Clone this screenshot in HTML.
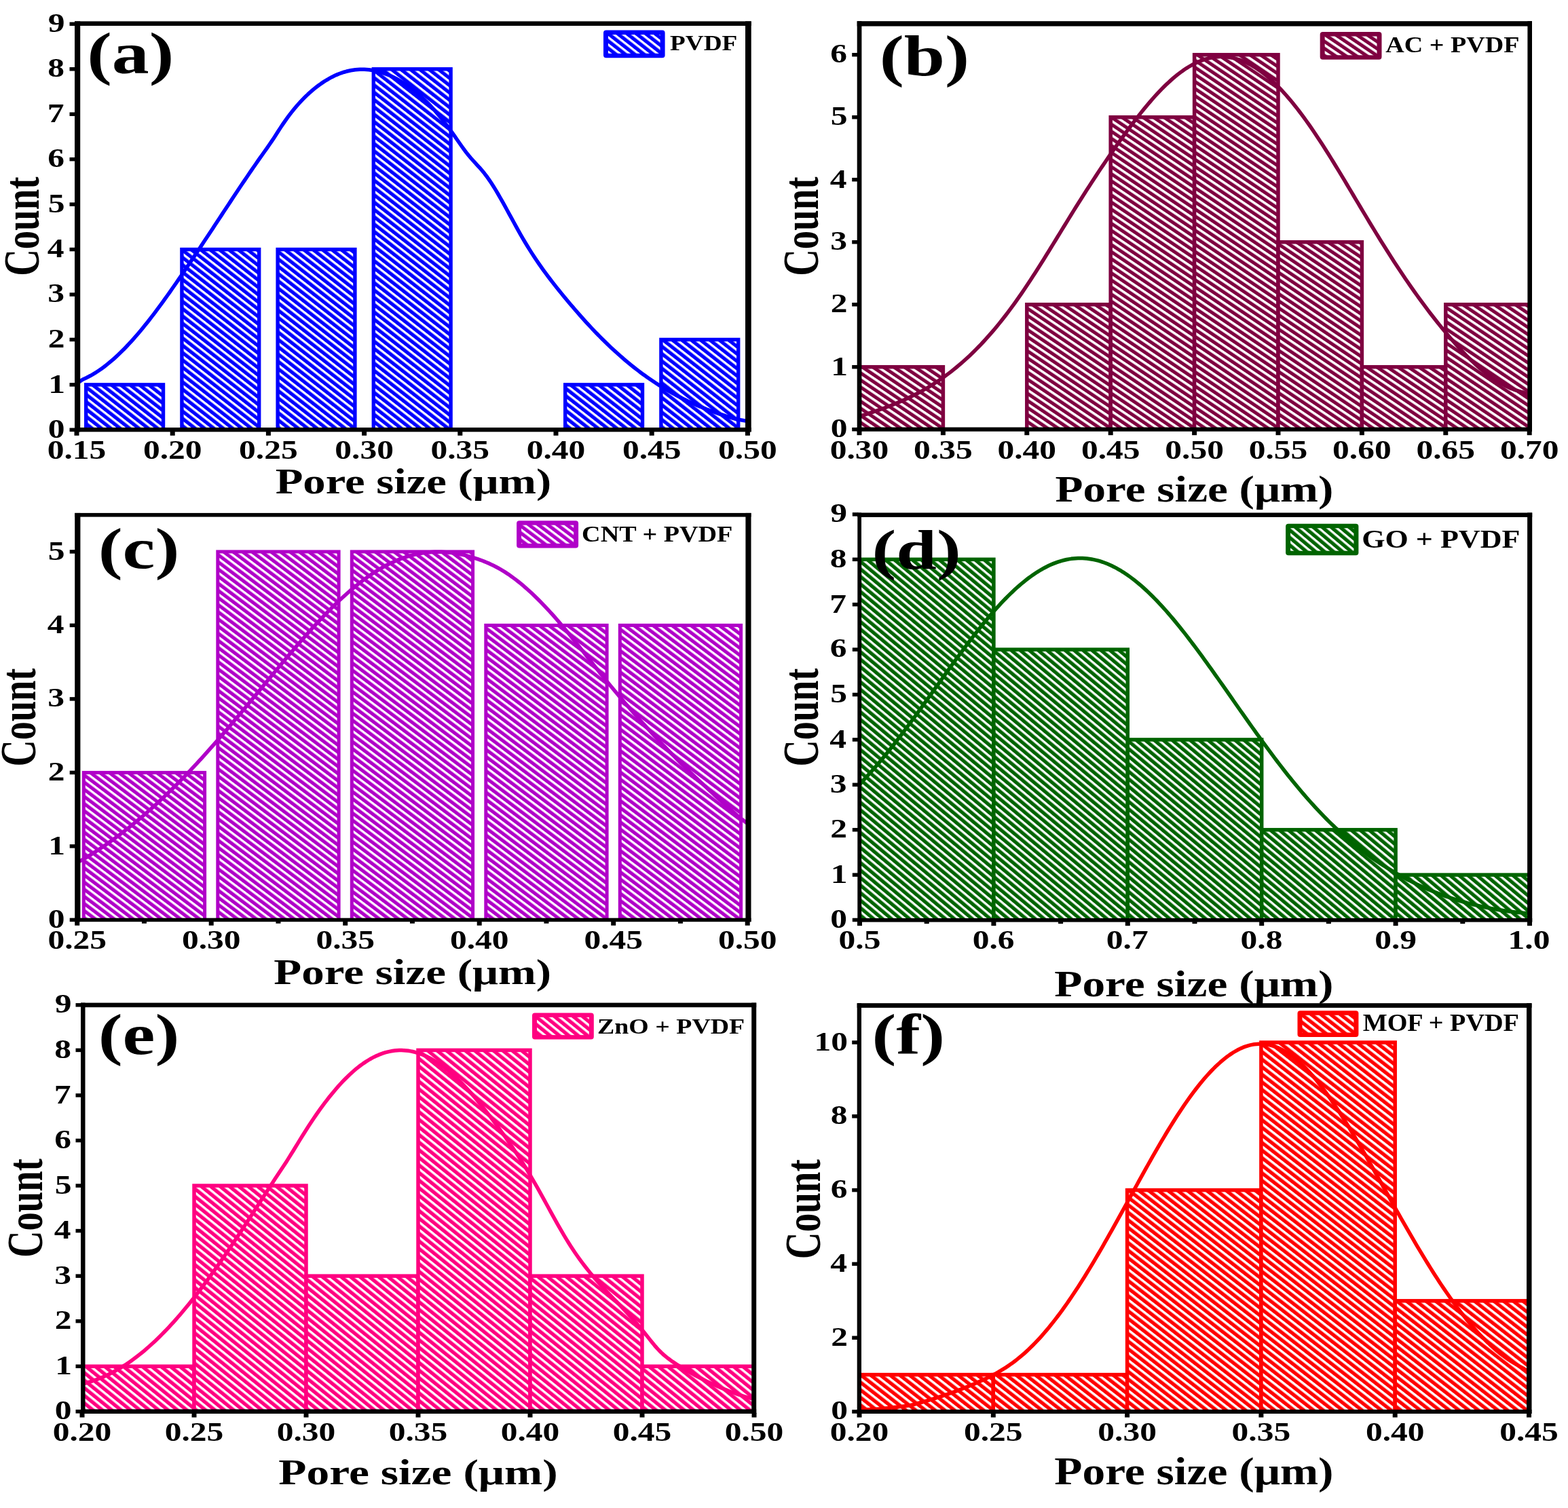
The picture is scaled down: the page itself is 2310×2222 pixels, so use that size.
<!DOCTYPE html>
<html><head><meta charset="utf-8"><title>Pore size distributions</title><style>html,body{margin:0;padding:0;background:#fff;width:2310px;height:2222px;overflow:hidden}svg{display:block;filter:blur(0.7px)}</style></head><body>
<svg xmlns="http://www.w3.org/2000/svg" width="2310" height="2222" viewBox="0 0 2310 2222"><defs><pattern id="ha" patternUnits="userSpaceOnUse" width="20" height="8.5" patternTransform="rotate(38)"><rect width="20" height="8.5" fill="#0000ff"/><rect y="0" width="20" height="3.3" fill="#fff"/></pattern><clipPath id="ca"><rect x="114.10" y="34.70" width="988.25" height="598.45"/></clipPath><pattern id="hb" patternUnits="userSpaceOnUse" width="20" height="8.65" patternTransform="rotate(34)"><rect width="20" height="8.65" fill="#7f0040"/><rect y="0" width="20" height="3.6" fill="#fff"/></pattern><clipPath id="cb"><rect x="1266.05" y="34.90" width="987.65" height="597.75"/></clipPath><pattern id="hc" patternUnits="userSpaceOnUse" width="20" height="8.4" patternTransform="rotate(37)"><rect width="20" height="8.4" fill="#b000c8"/><rect y="0" width="20" height="3.3" fill="#fff"/></pattern><clipPath id="cc"><rect x="114.30" y="758.75" width="988.15" height="596.70"/></clipPath><pattern id="hd" patternUnits="userSpaceOnUse" width="20" height="8.5" patternTransform="rotate(40)"><rect width="20" height="8.5" fill="#006400"/><rect y="0" width="20" height="3.3" fill="#fff"/></pattern><clipPath id="cd"><rect x="1266.15" y="758.75" width="987.50" height="597.05"/></clipPath><pattern id="he" patternUnits="userSpaceOnUse" width="20" height="8.7" patternTransform="rotate(39)"><rect width="20" height="8.7" fill="#ff0080"/><rect y="0" width="20" height="3.4" fill="#fff"/></pattern><clipPath id="ce"><rect x="122.25" y="1480.90" width="988.45" height="598.85"/></clipPath><pattern id="hf" patternUnits="userSpaceOnUse" width="20" height="8.8" patternTransform="rotate(38)"><rect width="20" height="8.8" fill="#ff0000"/><rect y="0" width="20" height="3.5" fill="#fff"/></pattern><clipPath id="cf"><rect x="1265.85" y="1481.55" width="986.90" height="598.45"/></clipPath></defs><rect width="2310" height="2222" fill="#fff"/><g font-family="'Liberation Serif', 'Times New Roman', serif" font-weight="bold" fill="#000"><g clip-path="url(#ca)">
<rect x="126.70" y="566.86" width="113.80" height="71.44" fill="url(#ha)" stroke="#0000ff" stroke-width="5.4"/>
<rect x="267.90" y="367.54" width="113.80" height="270.76" fill="url(#ha)" stroke="#0000ff" stroke-width="5.4"/>
<rect x="409.10" y="367.54" width="113.80" height="270.76" fill="url(#ha)" stroke="#0000ff" stroke-width="5.4"/>
<rect x="550.30" y="101.78" width="113.80" height="536.52" fill="url(#ha)" stroke="#0000ff" stroke-width="5.4"/>
<rect x="832.70" y="566.86" width="113.80" height="71.44" fill="url(#ha)" stroke="#0000ff" stroke-width="5.4"/>
<rect x="973.90" y="500.42" width="113.80" height="137.88" fill="url(#ha)" stroke="#0000ff" stroke-width="5.4"/>
<polyline points="110.00,566.82 113.33,564.74 116.67,562.60 120.00,560.41 123.34,558.49 126.67,556.95 130.01,555.29 133.34,553.52 136.68,551.62 140.01,549.61 143.34,547.49 146.68,545.25 150.01,542.90 153.35,540.45 156.68,537.88 160.02,535.21 163.35,532.43 166.69,529.56 170.02,526.58 173.35,523.50 176.69,520.32 180.02,517.05 183.36,513.69 186.69,510.24 190.03,506.70 193.36,503.07 196.70,499.36 200.03,495.56 203.36,491.69 206.70,487.74 210.03,483.71 213.37,479.61 216.70,475.45 220.04,471.21 223.37,466.91 226.71,462.55 230.04,458.13 233.37,453.65 236.71,449.12 240.04,444.55 243.38,439.92 246.71,435.25 250.05,430.54 253.38,425.79 256.72,421.01 260.05,416.20 263.38,411.35 266.72,406.49 270.05,401.61 273.39,396.70 276.72,391.78 280.06,386.83 283.39,381.87 286.73,376.90 290.06,371.91 293.39,366.90 296.73,361.88 300.06,356.85 303.40,351.81 306.73,346.76 310.07,341.71 313.40,336.65 316.74,331.58 320.07,326.51 323.40,321.44 326.74,316.37 330.07,311.30 333.41,306.24 336.74,301.19 340.08,296.14 343.41,291.10 346.75,286.08 350.08,281.06 353.41,276.07 356.75,271.09 360.08,266.14 363.42,261.20 366.75,256.29 370.09,251.41 373.42,246.56 376.76,241.73 380.09,236.94 383.42,232.19 386.76,227.47 390.09,222.77 393.43,218.04 396.76,213.27 400.10,208.41 403.43,203.43 406.77,198.31 410.10,193.04 413.43,187.87 416.77,182.87 420.10,178.06 423.44,173.42 426.77,168.96 430.11,164.67 433.44,160.54 436.78,156.58 440.11,152.78 443.44,149.13 446.78,145.65 450.11,142.31 453.45,139.12 456.78,136.08 460.12,133.17 463.45,130.41 466.79,127.78 470.12,125.27 473.45,122.90 476.79,120.65 480.12,118.53 483.46,116.54 486.79,114.68 490.13,112.95 493.46,111.35 496.80,109.87 500.13,108.53 503.46,107.32 506.80,106.24 510.13,105.29 513.47,104.47 516.80,103.78 520.14,103.22 523.47,102.78 526.81,102.48 530.14,102.30 533.47,102.25 536.81,102.32 540.14,102.52 543.48,102.84 546.81,103.29 550.15,103.85 553.48,104.54 556.82,105.34 560.15,106.25 563.48,107.29 566.82,108.43 570.15,109.68 573.49,111.04 576.82,112.51 580.16,114.09 583.49,115.79 586.83,117.60 590.16,119.52 593.49,121.55 596.83,123.70 600.16,125.97 603.50,128.36 606.83,130.87 610.17,133.49 613.50,136.23 616.84,139.10 620.17,142.08 623.51,145.18 626.84,148.41 630.17,151.75 633.51,155.21 636.84,158.80 640.18,162.50 643.51,166.33 646.85,170.27 650.18,174.34 653.52,178.52 656.85,182.82 660.18,187.25 663.52,191.79 666.85,196.44 670.19,201.20 673.52,206.01 676.86,210.80 680.19,215.54 683.53,220.15 686.86,224.59 690.19,228.80 693.53,232.75 696.86,236.50 700.20,240.15 703.53,243.77 706.87,247.45 710.20,251.28 713.54,255.34 716.87,259.71 720.20,264.38 723.54,269.32 726.87,274.51 730.21,279.91 733.54,285.51 736.88,291.26 740.21,297.15 743.55,303.14 746.88,309.20 750.21,315.31 753.55,321.44 756.88,327.56 760.22,333.64 763.55,339.65 766.89,345.57 770.22,351.36 773.56,357.01 776.89,362.51 780.22,367.88 783.56,373.12 786.89,378.23 790.23,383.22 793.56,388.10 796.90,392.88 800.23,397.55 803.57,402.13 806.90,406.62 810.23,411.03 813.57,415.37 816.90,419.64 820.24,423.85 823.57,428.00 826.91,432.11 830.24,436.18 833.58,440.21 836.91,444.21 840.24,448.17 843.58,452.09 846.91,455.98 850.25,459.82 853.58,463.62 856.92,467.39 860.25,471.11 863.59,474.78 866.92,478.41 870.25,482.00 873.59,485.54 876.92,489.03 880.26,492.48 883.59,495.88 886.93,499.23 890.26,502.53 893.60,505.79 896.93,508.99 900.26,512.15 903.60,515.26 906.93,518.32 910.27,521.32 913.60,524.28 916.94,527.19 920.27,530.05 923.61,532.86 926.94,535.62 930.27,538.34 933.61,541.00 936.94,543.61 940.28,546.18 943.61,548.70 946.95,551.17 950.28,553.59 953.62,555.96 956.95,558.29 960.28,560.57 963.62,562.81 966.95,565.00 970.29,567.14 973.62,569.24 976.96,571.30 980.29,573.31 983.63,575.28 986.96,577.21 990.29,579.09 993.63,580.94 996.96,582.74 1000.30,584.50 1003.63,586.22 1006.97,587.91 1010.30,589.55 1013.64,591.16 1016.97,592.73 1020.30,594.27 1023.64,595.76 1026.97,597.23 1030.31,598.65 1033.64,600.05 1036.98,601.41 1040.31,602.74 1043.65,604.03 1046.98,605.30 1050.31,606.53 1053.65,607.73 1056.98,608.90 1060.32,610.04 1063.65,611.16 1066.99,612.24 1070.32,613.30 1073.66,614.33 1076.99,615.34 1080.32,616.32 1083.66,617.27 1086.99,617.97 1090.33,618.63 1093.66,619.26 1097.00,619.86 1100.33,620.45 1103.67,621.01 1107.00,621.55" fill="none" stroke="#0000ff" stroke-width="5.5" stroke-linejoin="round"/>
</g>
<rect x="110.00" y="31.40" width="996.70" height="6.60" fill="#000"/>
<rect x="110.00" y="630.00" width="996.70" height="6.30" fill="#000"/>
<rect x="110.00" y="31.40" width="8.20" height="604.90" fill="#000"/>
<rect x="1098.00" y="31.40" width="8.70" height="604.90" fill="#000"/>
<rect x="109.50" y="635.30" width="7" height="6.5" fill="#000"/>
<rect x="250.70" y="635.30" width="7" height="6.5" fill="#000"/>
<rect x="391.90" y="635.30" width="7" height="6.5" fill="#000"/>
<rect x="533.10" y="635.30" width="7" height="6.5" fill="#000"/>
<rect x="674.30" y="635.30" width="7" height="6.5" fill="#000"/>
<rect x="815.50" y="635.30" width="7" height="6.5" fill="#000"/>
<rect x="956.70" y="635.30" width="7" height="6.5" fill="#000"/>
<rect x="1097.90" y="635.30" width="7" height="6.5" fill="#000"/>
<rect x="102.50" y="630.55" width="8.5" height="5.5" fill="#000"/>
<rect x="102.50" y="564.11" width="8.5" height="5.5" fill="#000"/>
<rect x="102.50" y="497.67" width="8.5" height="5.5" fill="#000"/>
<rect x="102.50" y="431.23" width="8.5" height="5.5" fill="#000"/>
<rect x="102.50" y="364.79" width="8.5" height="5.5" fill="#000"/>
<rect x="102.50" y="298.35" width="8.5" height="5.5" fill="#000"/>
<rect x="102.50" y="231.91" width="8.5" height="5.5" fill="#000"/>
<rect x="102.50" y="165.47" width="8.5" height="5.5" fill="#000"/>
<rect x="102.50" y="99.03" width="8.5" height="5.5" fill="#000"/>
<rect x="102.50" y="32.59" width="8.5" height="5.5" fill="#000"/>
<text transform="translate(69.69,676.00) scale(0.4950,0.4030)" font-size="100">0.15</text>
<text transform="translate(210.89,675.59) scale(0.4950,0.4030)" font-size="100">0.20</text>
<text transform="translate(352.09,675.59) scale(0.4950,0.4030)" font-size="100">0.25</text>
<text transform="translate(493.29,675.59) scale(0.4950,0.4030)" font-size="100">0.30</text>
<text transform="translate(634.49,675.59) scale(0.4950,0.4030)" font-size="100">0.35</text>
<text transform="translate(775.69,675.59) scale(0.4950,0.4030)" font-size="100">0.40</text>
<text transform="translate(916.89,675.59) scale(0.4950,0.4030)" font-size="100">0.45</text>
<text transform="translate(1058.09,675.59) scale(0.4950,0.4030)" font-size="100">0.50</text>
<text transform="translate(70.83,644.69) scale(0.4950,0.4030)" font-size="100">0</text>
<text transform="translate(71.33,578.86) scale(0.4950,0.4030)" font-size="100">1</text>
<text transform="translate(70.83,512.02) scale(0.4950,0.4030)" font-size="100">2</text>
<text transform="translate(70.33,445.37) scale(0.4950,0.4030)" font-size="100">3</text>
<text transform="translate(69.84,379.34) scale(0.4950,0.4030)" font-size="100">4</text>
<text transform="translate(70.83,312.70) scale(0.4950,0.4030)" font-size="100">5</text>
<text transform="translate(70.33,246.05) scale(0.4950,0.4030)" font-size="100">6</text>
<text transform="translate(69.84,180.02) scale(0.4950,0.4030)" font-size="100">7</text>
<text transform="translate(70.33,113.17) scale(0.4950,0.4030)" font-size="100">8</text>
<text transform="translate(70.83,46.73) scale(0.4950,0.4030)" font-size="100">9</text>
<text transform="translate(128.31,108.26) scale(1.0981,0.8589)" font-size="100">(a)</text>
<text transform="translate(405.67,727.38) scale(0.6664,0.5344)" font-size="100">Pore size (μm)</text>
<text transform="translate(57.05,406.74) rotate(-90) scale(0.5487,0.7470)" font-size="100">Count</text>
<rect x="889.00" y="44.50" width="90.60" height="40.80" rx="4" fill="#0000ff"/>
<rect x="896.00" y="51.00" width="76.60" height="27.80" fill="url(#ha)"/>
<text transform="translate(987.05,73.87) scale(0.3727,0.3134)" font-size="100">PVDF</text>
<g clip-path="url(#cb)">
<rect x="1266.00" y="540.70" width="123.40" height="97.00" fill="url(#hb)" stroke="#7f0040" stroke-width="5.5"/>
<rect x="1512.80" y="448.70" width="123.40" height="189.00" fill="url(#hb)" stroke="#7f0040" stroke-width="5.5"/>
<rect x="1636.20" y="172.70" width="123.40" height="465.00" fill="url(#hb)" stroke="#7f0040" stroke-width="5.5"/>
<rect x="1759.60" y="80.70" width="123.40" height="557.00" fill="url(#hb)" stroke="#7f0040" stroke-width="5.5"/>
<rect x="1883.00" y="356.70" width="123.40" height="281.00" fill="url(#hb)" stroke="#7f0040" stroke-width="5.5"/>
<rect x="2006.40" y="540.70" width="123.40" height="97.00" fill="url(#hb)" stroke="#7f0040" stroke-width="5.5"/>
<rect x="2129.80" y="448.70" width="123.40" height="189.00" fill="url(#hb)" stroke="#7f0040" stroke-width="5.5"/>
<polyline points="1262.00,614.22 1265.33,613.43 1268.66,612.62 1271.98,611.66 1275.31,610.60 1278.64,609.53 1281.97,608.44 1285.29,607.33 1288.62,606.21 1291.95,605.07 1295.28,603.90 1298.61,602.71 1301.93,601.50 1305.26,600.26 1308.59,598.99 1311.92,597.70 1315.24,596.37 1318.57,595.02 1321.90,593.63 1325.23,592.21 1328.56,590.75 1331.88,589.26 1335.21,587.73 1338.54,586.16 1341.87,584.54 1345.19,582.89 1348.52,581.19 1351.85,579.45 1355.18,577.66 1358.51,575.83 1361.83,573.94 1365.16,572.01 1368.49,570.02 1371.82,567.98 1375.14,565.89 1378.47,563.74 1381.80,561.54 1385.13,559.27 1388.45,556.95 1391.78,554.57 1395.11,552.13 1398.44,549.63 1401.77,547.06 1405.09,544.43 1408.42,541.74 1411.75,538.98 1415.08,536.15 1418.40,533.25 1421.73,530.29 1425.06,527.25 1428.39,524.15 1431.72,520.97 1435.04,517.72 1438.37,514.40 1441.70,511.01 1445.03,507.54 1448.35,504.00 1451.68,500.39 1455.01,496.70 1458.34,492.94 1461.67,489.10 1464.99,485.18 1468.32,481.19 1471.65,477.13 1474.98,472.99 1478.30,468.77 1481.63,464.48 1484.96,460.11 1488.29,455.67 1491.62,451.15 1494.94,446.56 1498.27,441.90 1501.60,437.16 1504.93,432.35 1508.25,427.47 1511.58,422.54 1514.91,417.54 1518.24,412.48 1521.57,407.37 1524.89,402.21 1528.22,397.01 1531.55,391.77 1534.88,386.48 1538.20,381.17 1541.53,375.82 1544.86,370.45 1548.19,365.06 1551.52,359.64 1554.84,354.22 1558.17,348.79 1561.50,343.36 1564.83,337.92 1568.15,332.49 1571.48,327.07 1574.81,321.67 1578.14,316.28 1581.46,310.92 1584.79,305.58 1588.12,300.28 1591.45,295.00 1594.78,289.75 1598.10,284.52 1601.43,279.33 1604.76,274.17 1608.09,269.04 1611.41,263.93 1614.74,258.87 1618.07,253.83 1621.40,248.83 1624.73,243.86 1628.05,238.93 1631.38,234.03 1634.71,229.17 1638.04,224.35 1641.36,219.57 1644.69,214.83 1648.02,210.12 1651.35,205.46 1654.68,200.84 1658.00,196.27 1661.33,191.74 1664.66,187.25 1667.99,182.82 1671.31,178.44 1674.64,174.12 1677.97,169.86 1681.30,165.66 1684.63,161.53 1687.95,157.47 1691.28,153.49 1694.61,149.59 1697.94,145.78 1701.26,142.04 1704.59,138.40 1707.92,134.85 1711.25,131.40 1714.58,128.04 1717.90,124.79 1721.23,121.64 1724.56,118.60 1727.89,115.68 1731.21,112.86 1734.54,110.16 1737.87,107.59 1741.20,105.13 1744.53,102.79 1747.85,100.58 1751.18,98.50 1754.51,96.55 1757.84,94.73 1761.16,93.04 1764.49,91.48 1767.82,90.07 1771.15,88.78 1774.47,87.64 1777.80,86.64 1781.13,85.77 1784.46,85.05 1787.79,84.47 1791.11,84.03 1794.44,83.74 1797.77,83.59 1801.10,83.58 1804.42,83.72 1807.75,84.00 1811.08,84.43 1814.41,85.00 1817.74,85.71 1821.06,86.57 1824.39,87.57 1827.72,88.72 1831.05,90.01 1834.37,91.43 1837.70,93.00 1841.03,94.71 1844.36,96.55 1847.69,98.54 1851.01,100.65 1854.34,102.91 1857.67,105.29 1861.00,107.81 1864.32,110.45 1867.65,113.22 1870.98,116.12 1874.31,119.14 1877.64,122.29 1880.96,125.55 1884.29,128.93 1887.62,132.43 1890.95,136.03 1894.27,139.75 1897.60,143.58 1900.93,147.51 1904.26,151.54 1907.59,155.68 1910.91,159.91 1914.24,164.24 1917.57,168.66 1920.90,173.17 1924.22,177.76 1927.55,182.44 1930.88,187.20 1934.21,192.04 1937.54,196.96 1940.86,201.94 1944.19,207.00 1947.52,212.11 1950.85,217.29 1954.17,222.53 1957.50,227.82 1960.83,233.15 1964.16,238.53 1967.48,243.95 1970.81,249.41 1974.14,254.89 1977.47,260.40 1980.80,265.94 1984.12,271.49 1987.45,277.06 1990.78,282.64 1994.11,288.23 1997.43,293.82 2000.76,299.41 2004.09,304.99 2007.42,310.57 2010.75,316.13 2014.07,321.68 2017.40,327.21 2020.73,332.71 2024.06,338.19 2027.38,343.63 2030.71,349.05 2034.04,354.43 2037.37,359.77 2040.70,365.08 2044.02,370.34 2047.35,375.57 2050.68,380.75 2054.01,385.90 2057.33,390.99 2060.66,396.05 2063.99,401.06 2067.32,406.02 2070.65,410.93 2073.97,415.80 2077.30,420.62 2080.63,425.38 2083.96,430.10 2087.28,434.77 2090.61,439.39 2093.94,443.96 2097.27,448.47 2100.60,452.94 2103.92,457.35 2107.25,461.71 2110.58,466.02 2113.91,470.28 2117.23,474.49 2120.56,478.65 2123.89,482.76 2127.22,486.82 2130.55,490.82 2133.87,494.78 2137.20,498.67 2140.53,502.51 2143.86,506.28 2147.18,509.98 2150.51,513.62 2153.84,517.19 2157.17,520.68 2160.49,524.10 2163.82,527.44 2167.15,530.69 2170.48,533.86 2173.81,536.95 2177.13,539.94 2180.46,542.85 2183.79,545.66 2187.12,548.38 2190.44,551.00 2193.77,553.52 2197.10,555.93 2200.43,558.25 2203.76,560.45 2207.08,562.55 2210.41,564.54 2213.74,566.42 2217.07,568.18 2220.39,569.82 2223.72,571.35 2227.05,572.75 2230.38,574.04 2233.71,575.20 2237.03,576.24 2240.36,577.15 2243.69,577.93 2247.02,579.20 2250.34,580.90 2253.67,582.56 2257.00,584.17" fill="none" stroke="#7f0040" stroke-width="5.5" stroke-linejoin="round"/>
</g>
<rect x="1262.70" y="31.20" width="994.30" height="7.40" fill="#000"/>
<rect x="1262.70" y="629.60" width="994.30" height="6.10" fill="#000"/>
<rect x="1262.70" y="31.20" width="6.70" height="604.50" fill="#000"/>
<rect x="2250.40" y="31.20" width="6.60" height="604.50" fill="#000"/>
<rect x="1262.50" y="634.70" width="7" height="6.5" fill="#000"/>
<rect x="1385.90" y="634.70" width="7" height="6.5" fill="#000"/>
<rect x="1509.30" y="634.70" width="7" height="6.5" fill="#000"/>
<rect x="1632.70" y="634.70" width="7" height="6.5" fill="#000"/>
<rect x="1756.10" y="634.70" width="7" height="6.5" fill="#000"/>
<rect x="1879.50" y="634.70" width="7" height="6.5" fill="#000"/>
<rect x="2002.90" y="634.70" width="7" height="6.5" fill="#000"/>
<rect x="2126.30" y="634.70" width="7" height="6.5" fill="#000"/>
<rect x="2249.70" y="634.70" width="7" height="6.5" fill="#000"/>
<rect x="1255.20" y="629.95" width="8.5" height="5.5" fill="#000"/>
<rect x="1255.20" y="537.95" width="8.5" height="5.5" fill="#000"/>
<rect x="1255.20" y="445.95" width="8.5" height="5.5" fill="#000"/>
<rect x="1255.20" y="353.95" width="8.5" height="5.5" fill="#000"/>
<rect x="1255.20" y="261.95" width="8.5" height="5.5" fill="#000"/>
<rect x="1255.20" y="169.95" width="8.5" height="5.5" fill="#000"/>
<rect x="1255.20" y="77.95" width="8.5" height="5.5" fill="#000"/>
<text transform="translate(1222.69,675.59) scale(0.4950,0.4030)" font-size="100">0.30</text>
<text transform="translate(1346.09,675.59) scale(0.4950,0.4030)" font-size="100">0.35</text>
<text transform="translate(1469.49,675.59) scale(0.4950,0.4030)" font-size="100">0.40</text>
<text transform="translate(1592.89,675.59) scale(0.4950,0.4030)" font-size="100">0.45</text>
<text transform="translate(1716.29,675.59) scale(0.4950,0.4030)" font-size="100">0.50</text>
<text transform="translate(1839.69,675.59) scale(0.4950,0.4030)" font-size="100">0.55</text>
<text transform="translate(1963.09,675.59) scale(0.4950,0.4030)" font-size="100">0.60</text>
<text transform="translate(2086.49,675.59) scale(0.4950,0.4030)" font-size="100">0.65</text>
<text transform="translate(2209.89,675.59) scale(0.4950,0.4030)" font-size="100">0.70</text>
<text transform="translate(1223.73,644.09) scale(0.4950,0.4030)" font-size="100">0</text>
<text transform="translate(1224.22,552.70) scale(0.4950,0.4030)" font-size="100">1</text>
<text transform="translate(1223.73,460.30) scale(0.4950,0.4030)" font-size="100">2</text>
<text transform="translate(1223.23,368.09) scale(0.4950,0.4030)" font-size="100">3</text>
<text transform="translate(1222.74,276.50) scale(0.4950,0.4030)" font-size="100">4</text>
<text transform="translate(1223.73,184.30) scale(0.4950,0.4030)" font-size="100">5</text>
<text transform="translate(1223.24,92.09) scale(0.4950,0.4030)" font-size="100">6</text>
<text transform="translate(1295.67,110.73) scale(1.0833,0.8511)" font-size="100">(b)</text>
<text transform="translate(1554.46,738.91) scale(0.6722,0.5422)" font-size="100">Pore size (μm)</text>
<text transform="translate(1204.57,406.74) rotate(-90) scale(0.5487,0.7318)" font-size="100">Count</text>
<rect x="1944.70" y="47.00" width="90.80" height="40.80" rx="4" fill="#7f0040"/>
<rect x="1951.70" y="53.50" width="76.80" height="27.80" fill="url(#hb)"/>
<text transform="translate(2041.22,76.93) scale(0.3807,0.3368)" font-size="100">AC + PVDF</text>
<g clip-path="url(#cc)">
<rect x="123.30" y="1138.40" width="178.30" height="222.00" fill="url(#hc)" stroke="#b000c8" stroke-width="5.0"/>
<rect x="320.80" y="812.90" width="178.30" height="547.50" fill="url(#hc)" stroke="#b000c8" stroke-width="5.0"/>
<rect x="518.30" y="812.90" width="178.30" height="547.50" fill="url(#hc)" stroke="#b000c8" stroke-width="5.0"/>
<rect x="715.80" y="921.40" width="178.30" height="439.00" fill="url(#hc)" stroke="#b000c8" stroke-width="5.0"/>
<rect x="913.30" y="921.40" width="178.30" height="439.00" fill="url(#hc)" stroke="#b000c8" stroke-width="5.0"/>
<polyline points="110.00,1272.84 113.33,1271.12 116.67,1269.37 120.00,1267.58 123.34,1265.75 126.67,1263.77 130.01,1261.71 133.34,1259.62 136.68,1257.50 140.01,1255.35 143.34,1253.18 146.68,1250.97 150.01,1248.72 153.35,1246.45 156.68,1244.15 160.02,1241.81 163.35,1239.44 166.69,1237.04 170.02,1234.60 173.35,1232.14 176.69,1229.63 180.02,1227.10 183.36,1224.53 186.69,1221.93 190.03,1219.30 193.36,1216.63 196.70,1213.93 200.03,1211.19 203.36,1208.42 206.70,1205.62 210.03,1202.78 213.37,1199.91 216.70,1197.00 220.04,1194.06 223.37,1191.09 226.71,1188.08 230.04,1185.04 233.37,1181.96 236.71,1178.85 240.04,1175.71 243.38,1172.54 246.71,1169.33 250.05,1166.09 253.38,1162.82 256.72,1159.52 260.05,1156.18 263.38,1152.82 266.72,1149.42 270.05,1146.00 273.39,1142.54 276.72,1139.05 280.06,1135.54 283.39,1131.99 286.73,1128.42 290.06,1124.82 293.39,1121.20 296.73,1117.54 300.06,1113.87 303.40,1110.16 306.73,1106.44 310.07,1102.69 313.40,1098.91 316.74,1095.12 320.07,1091.30 323.40,1087.46 326.74,1083.61 330.07,1079.73 333.41,1075.84 336.74,1071.93 340.08,1068.00 343.41,1064.06 346.75,1060.10 350.08,1056.13 353.41,1052.15 356.75,1048.16 360.08,1044.16 363.42,1040.14 366.75,1036.12 370.09,1032.10 373.42,1028.07 376.76,1024.03 380.09,1019.99 383.42,1015.95 386.76,1011.90 390.09,1007.86 393.43,1003.82 396.76,999.78 400.10,995.75 403.43,991.72 406.77,987.70 410.10,983.69 413.43,979.69 416.77,975.70 420.10,971.73 423.44,967.77 426.77,963.83 430.11,959.91 433.44,956.00 436.78,952.12 440.11,948.26 443.44,944.43 446.78,940.63 450.11,936.85 453.45,933.10 456.78,929.38 460.12,925.70 463.45,922.05 466.79,918.43 470.12,914.86 473.45,911.32 476.79,907.82 480.12,904.37 483.46,900.96 486.79,897.59 490.13,894.27 493.46,891.01 496.80,887.79 500.13,884.62 503.46,881.50 506.80,878.44 510.13,875.44 513.47,872.49 516.80,869.61 520.14,866.78 523.47,864.01 526.81,861.31 530.14,858.67 533.47,856.10 536.81,853.60 540.14,851.16 543.48,848.79 546.81,846.50 550.15,844.27 553.48,842.12 556.82,840.05 560.15,838.05 563.48,836.12 566.82,834.28 570.15,832.51 573.49,830.82 576.82,829.20 580.16,827.67 583.49,826.21 586.83,824.84 590.16,823.54 593.49,822.32 596.83,821.18 600.16,820.11 603.50,819.13 606.83,818.22 610.17,817.39 613.50,816.64 616.84,815.96 620.17,815.36 623.51,814.84 626.84,814.40 630.17,814.03 633.51,813.73 636.84,813.51 640.18,813.37 643.51,813.30 646.85,813.30 650.18,813.37 653.52,813.51 656.85,813.73 660.18,814.01 663.52,814.37 666.85,814.79 670.19,815.28 673.52,815.83 676.86,816.45 680.19,817.14 683.53,817.88 686.86,818.69 690.19,819.56 693.53,820.49 696.86,821.48 700.20,822.52 703.53,823.63 706.87,824.79 710.20,826.02 713.54,827.32 716.87,828.69 720.20,830.13 723.54,831.66 726.87,833.27 730.21,834.96 733.54,836.75 736.88,838.63 740.21,840.60 743.55,842.67 746.88,844.84 750.21,847.09 753.55,849.43 756.88,851.86 760.22,854.38 763.55,856.99 766.89,859.68 770.22,862.45 773.56,865.30 776.89,868.23 780.22,871.24 783.56,874.32 786.89,877.48 790.23,880.70 793.56,884.00 796.90,887.37 800.23,890.81 803.57,894.31 806.90,897.88 810.23,901.50 813.57,905.19 816.90,908.94 820.24,912.74 823.57,916.59 826.91,920.50 830.24,924.46 833.58,928.46 836.91,932.50 840.24,936.57 843.58,940.68 846.91,944.81 850.25,948.97 853.58,953.15 856.92,957.34 860.25,961.55 863.59,965.76 866.92,969.97 870.25,974.19 873.59,978.40 876.92,982.60 880.26,986.78 883.59,990.95 886.93,995.10 890.26,999.23 893.60,1003.32 896.93,1007.40 900.26,1011.44 903.60,1015.46 906.93,1019.45 910.27,1023.42 913.60,1027.37 916.94,1031.28 920.27,1035.18 923.61,1039.05 926.94,1042.90 930.27,1046.72 933.61,1050.52 936.94,1054.30 940.28,1058.05 943.61,1061.78 946.95,1065.49 950.28,1069.17 953.62,1072.83 956.95,1076.47 960.28,1080.08 963.62,1083.67 966.95,1087.24 970.29,1090.78 973.62,1094.30 976.96,1097.79 980.29,1101.27 983.63,1104.72 986.96,1108.14 990.29,1111.55 993.63,1114.93 996.96,1118.29 1000.30,1121.62 1003.63,1124.94 1006.97,1128.23 1010.30,1131.51 1013.64,1134.76 1016.97,1137.99 1020.30,1141.21 1023.64,1144.40 1026.97,1147.58 1030.31,1150.74 1033.64,1153.87 1036.98,1157.00 1040.31,1160.10 1043.65,1163.19 1046.98,1166.27 1050.31,1169.33 1053.65,1172.37 1056.98,1175.41 1060.32,1178.43 1063.65,1181.43 1066.99,1184.43 1070.32,1187.42 1073.66,1190.40 1076.99,1193.37 1080.32,1196.33 1083.66,1199.28 1086.99,1202.23 1090.33,1204.95 1093.66,1207.63 1097.00,1210.27 1100.33,1212.88 1103.67,1215.45 1107.00,1217.98" fill="none" stroke="#b000c8" stroke-width="5.5" stroke-linejoin="round"/>
</g>
<rect x="110.20" y="755.90" width="996.30" height="5.70" fill="#000"/>
<rect x="110.20" y="1352.70" width="996.30" height="5.50" fill="#000"/>
<rect x="110.20" y="755.90" width="8.20" height="602.30" fill="#000"/>
<rect x="1098.40" y="755.90" width="8.10" height="602.30" fill="#000"/>
<rect x="110.20" y="1357.20" width="7" height="6.5" fill="#000"/>
<rect x="307.70" y="1357.20" width="7" height="6.5" fill="#000"/>
<rect x="505.20" y="1357.20" width="7" height="6.5" fill="#000"/>
<rect x="702.70" y="1357.20" width="7" height="6.5" fill="#000"/>
<rect x="900.20" y="1357.20" width="7" height="6.5" fill="#000"/>
<rect x="1097.70" y="1357.20" width="7" height="6.5" fill="#000"/>
<rect x="208.95" y="1357.20" width="7" height="3.5" fill="#000"/>
<rect x="406.45" y="1357.20" width="7" height="3.5" fill="#000"/>
<rect x="603.95" y="1357.20" width="7" height="3.5" fill="#000"/>
<rect x="801.45" y="1357.20" width="7" height="3.5" fill="#000"/>
<rect x="998.95" y="1357.20" width="7" height="3.5" fill="#000"/>
<rect x="102.70" y="1352.65" width="8.5" height="5.5" fill="#000"/>
<rect x="102.70" y="1244.15" width="8.5" height="5.5" fill="#000"/>
<rect x="102.70" y="1135.65" width="8.5" height="5.5" fill="#000"/>
<rect x="102.70" y="1027.15" width="8.5" height="5.5" fill="#000"/>
<rect x="102.70" y="918.65" width="8.5" height="5.5" fill="#000"/>
<rect x="102.70" y="810.15" width="8.5" height="5.5" fill="#000"/>
<text transform="translate(70.39,1397.89) scale(0.4950,0.4030)" font-size="100">0.25</text>
<text transform="translate(267.89,1397.89) scale(0.4950,0.4030)" font-size="100">0.30</text>
<text transform="translate(465.39,1397.89) scale(0.4950,0.4030)" font-size="100">0.35</text>
<text transform="translate(662.89,1397.89) scale(0.4950,0.4030)" font-size="100">0.40</text>
<text transform="translate(860.39,1397.89) scale(0.4950,0.4030)" font-size="100">0.45</text>
<text transform="translate(1057.89,1397.89) scale(0.4950,0.4030)" font-size="100">0.50</text>
<text transform="translate(70.63,1366.79) scale(0.4950,0.4030)" font-size="100">0</text>
<text transform="translate(71.13,1258.90) scale(0.4950,0.4030)" font-size="100">1</text>
<text transform="translate(70.63,1150.00) scale(0.4950,0.4030)" font-size="100">2</text>
<text transform="translate(70.14,1041.29) scale(0.4950,0.4030)" font-size="100">3</text>
<text transform="translate(69.64,933.20) scale(0.4950,0.4030)" font-size="100">4</text>
<text transform="translate(70.63,824.50) scale(0.4950,0.4030)" font-size="100">5</text>
<text transform="translate(144.69,836.56) scale(1.0777,0.8544)" font-size="100">(c)</text>
<text transform="translate(403.26,1449.75) scale(0.6704,0.5356)" font-size="100">Pore size (μm)</text>
<text transform="translate(51.77,1129.41) rotate(-90) scale(0.5429,0.7318)" font-size="100">Count</text>
<rect x="761.10" y="767.20" width="91.00" height="40.20" rx="4" fill="#b000c8"/>
<rect x="768.10" y="773.70" width="77.00" height="27.20" fill="url(#hc)"/>
<text transform="translate(857.09,797.94) scale(0.3815,0.3284)" font-size="100">CNT + PVDF</text>
<g clip-path="url(#cd)">
<rect x="1266.50" y="824.30" width="197.40" height="536.20" fill="url(#hd)" stroke="#006400" stroke-width="5.5"/>
<rect x="1463.90" y="957.10" width="197.40" height="403.40" fill="url(#hd)" stroke="#006400" stroke-width="5.5"/>
<rect x="1661.30" y="1089.90" width="197.40" height="270.60" fill="url(#hd)" stroke="#006400" stroke-width="5.5"/>
<rect x="1858.70" y="1222.70" width="197.40" height="137.80" fill="url(#hd)" stroke="#006400" stroke-width="5.5"/>
<rect x="2056.10" y="1289.10" width="197.40" height="71.40" fill="url(#hd)" stroke="#006400" stroke-width="5.5"/>
<polyline points="1262.00,1161.46 1265.33,1157.51 1268.66,1153.51 1271.98,1149.61 1275.31,1146.06 1278.64,1142.44 1281.97,1138.76 1285.29,1135.02 1288.62,1131.23 1291.95,1127.37 1295.28,1123.47 1298.61,1119.50 1301.93,1115.49 1305.26,1111.42 1308.59,1107.31 1311.92,1103.15 1315.24,1098.94 1318.57,1094.69 1321.90,1090.40 1325.23,1086.07 1328.56,1081.71 1331.88,1077.30 1335.21,1072.87 1338.54,1068.40 1341.87,1063.91 1345.19,1059.39 1348.52,1054.84 1351.85,1050.27 1355.18,1045.68 1358.51,1041.08 1361.83,1036.46 1365.16,1031.82 1368.49,1027.18 1371.82,1022.53 1375.14,1017.87 1378.47,1013.21 1381.80,1008.55 1385.13,1003.89 1388.45,999.24 1391.78,994.59 1395.11,989.95 1398.44,985.33 1401.77,980.72 1405.09,976.13 1408.42,971.56 1411.75,967.02 1415.08,962.50 1418.40,958.01 1421.73,953.55 1425.06,949.12 1428.39,944.73 1431.72,940.38 1435.04,936.08 1438.37,931.82 1441.70,927.60 1445.03,923.44 1448.35,919.33 1451.68,915.28 1455.01,911.29 1458.34,907.35 1461.67,903.48 1464.99,899.68 1468.32,895.94 1471.65,892.28 1474.98,888.69 1478.30,885.18 1481.63,881.74 1484.96,878.38 1488.29,875.10 1491.62,871.91 1494.94,868.80 1498.27,865.78 1501.60,862.85 1504.93,860.01 1508.25,857.26 1511.58,854.61 1514.91,852.05 1518.24,849.59 1521.57,847.23 1524.89,844.97 1528.22,842.80 1531.55,840.75 1534.88,838.79 1538.20,836.95 1541.53,835.21 1544.86,833.57 1548.19,832.05 1551.52,830.63 1554.84,829.33 1558.17,828.13 1561.50,827.05 1564.83,826.08 1568.15,825.23 1571.48,824.49 1574.81,823.86 1578.14,823.35 1581.46,822.95 1584.79,822.67 1588.12,822.51 1591.45,822.46 1594.78,822.52 1598.10,822.70 1601.43,823.00 1604.76,823.41 1608.09,823.94 1611.41,824.58 1614.74,825.33 1618.07,826.20 1621.40,827.19 1624.73,828.28 1628.05,829.49 1631.38,830.81 1634.71,832.23 1638.04,833.77 1641.36,835.42 1644.69,837.17 1648.02,839.03 1651.35,840.99 1654.68,843.06 1658.00,845.23 1661.33,847.51 1664.66,849.88 1667.99,852.35 1671.31,854.91 1674.64,857.57 1677.97,860.33 1681.30,863.18 1684.63,866.11 1687.95,869.14 1691.28,872.25 1694.61,875.45 1697.94,878.73 1701.26,882.09 1704.59,885.52 1707.92,889.04 1711.25,892.63 1714.58,896.29 1717.90,900.03 1721.23,903.83 1724.56,907.70 1727.89,911.63 1731.21,915.62 1734.54,919.67 1737.87,923.78 1741.20,927.95 1744.53,932.16 1747.85,936.43 1751.18,940.74 1754.51,945.10 1757.84,949.50 1761.16,953.94 1764.49,958.41 1767.82,962.92 1771.15,967.47 1774.47,972.04 1777.80,976.65 1781.13,981.28 1784.46,985.93 1787.79,990.60 1791.11,995.29 1794.44,1000.00 1797.77,1004.72 1801.10,1009.45 1804.42,1014.19 1807.75,1018.94 1811.08,1023.69 1814.41,1028.45 1817.74,1033.21 1821.06,1037.96 1824.39,1042.71 1827.72,1047.46 1831.05,1052.19 1834.37,1056.92 1837.70,1061.63 1841.03,1066.34 1844.36,1071.02 1847.69,1075.69 1851.01,1080.34 1854.34,1084.96 1857.67,1089.57 1861.00,1094.14 1864.32,1098.70 1867.65,1103.22 1870.98,1107.71 1874.31,1112.18 1877.64,1116.61 1880.96,1121.00 1884.29,1125.37 1887.62,1129.69 1890.95,1133.98 1894.27,1138.22 1897.60,1142.43 1900.93,1146.59 1904.26,1150.71 1907.59,1154.79 1910.91,1158.82 1914.24,1162.81 1917.57,1166.74 1920.90,1170.63 1924.22,1174.48 1927.55,1178.27 1930.88,1182.01 1934.21,1185.70 1937.54,1189.34 1940.86,1192.93 1944.19,1196.46 1947.52,1199.94 1950.85,1203.38 1954.17,1206.75 1957.50,1210.08 1960.83,1213.36 1964.16,1216.58 1967.48,1219.75 1970.81,1222.87 1974.14,1225.94 1977.47,1228.95 1980.80,1231.92 1984.12,1234.83 1987.45,1237.70 1990.78,1240.51 1994.11,1243.27 1997.43,1245.99 2000.76,1248.66 2004.09,1251.27 2007.42,1253.84 2010.75,1256.37 2014.07,1258.84 2017.40,1261.27 2020.73,1263.66 2024.06,1266.00 2027.38,1268.29 2030.71,1270.55 2034.04,1272.76 2037.37,1274.93 2040.70,1277.05 2044.02,1279.14 2047.35,1281.18 2050.68,1283.19 2054.01,1285.16 2057.33,1287.09 2060.66,1288.99 2063.99,1290.85 2067.32,1292.67 2070.65,1294.46 2073.97,1296.21 2077.30,1297.93 2080.63,1299.61 2083.96,1301.25 2087.28,1302.86 2090.61,1304.44 2093.94,1305.98 2097.27,1307.49 2100.60,1308.97 2103.92,1310.41 2107.25,1311.82 2110.58,1313.20 2113.91,1314.54 2117.23,1315.85 2120.56,1317.14 2123.89,1318.39 2127.22,1319.61 2130.55,1320.80 2133.87,1321.95 2137.20,1323.08 2140.53,1324.18 2143.86,1325.25 2147.18,1326.30 2150.51,1327.31 2153.84,1328.30 2157.17,1329.25 2160.49,1330.18 2163.82,1331.08 2167.15,1331.96 2170.48,1332.81 2173.81,1333.63 2177.13,1334.42 2180.46,1335.19 2183.79,1335.94 2187.12,1336.66 2190.44,1337.35 2193.77,1338.02 2197.10,1338.66 2200.43,1339.28 2203.76,1339.87 2207.08,1340.45 2210.41,1340.99 2213.74,1341.51 2217.07,1342.01 2220.39,1342.49 2223.72,1342.94 2227.05,1343.37 2230.38,1343.78 2233.71,1344.16 2237.03,1344.53 2240.36,1344.86 2243.69,1345.18 2247.02,1345.48 2250.34,1345.81 2253.67,1346.13 2257.00,1346.44" fill="none" stroke="#006400" stroke-width="5.5" stroke-linejoin="round"/>
</g>
<rect x="1263.30" y="755.50" width="993.90" height="6.50" fill="#000"/>
<rect x="1263.30" y="1353.00" width="993.90" height="5.60" fill="#000"/>
<rect x="1263.30" y="755.50" width="5.70" height="603.10" fill="#000"/>
<rect x="2250.10" y="755.50" width="7.10" height="603.10" fill="#000"/>
<rect x="1263.00" y="1357.60" width="7" height="6.5" fill="#000"/>
<rect x="1460.40" y="1357.60" width="7" height="6.5" fill="#000"/>
<rect x="1657.80" y="1357.60" width="7" height="6.5" fill="#000"/>
<rect x="1855.20" y="1357.60" width="7" height="6.5" fill="#000"/>
<rect x="2052.60" y="1357.60" width="7" height="6.5" fill="#000"/>
<rect x="2250.00" y="1357.60" width="7" height="6.5" fill="#000"/>
<rect x="1361.70" y="1357.60" width="7" height="3.5" fill="#000"/>
<rect x="1559.10" y="1357.60" width="7" height="3.5" fill="#000"/>
<rect x="1756.50" y="1357.60" width="7" height="3.5" fill="#000"/>
<rect x="1953.90" y="1357.60" width="7" height="3.5" fill="#000"/>
<rect x="2151.30" y="1357.60" width="7" height="3.5" fill="#000"/>
<rect x="1255.80" y="1352.75" width="8.5" height="5.5" fill="#000"/>
<rect x="1255.80" y="1286.35" width="8.5" height="5.5" fill="#000"/>
<rect x="1255.80" y="1219.95" width="8.5" height="5.5" fill="#000"/>
<rect x="1255.80" y="1153.55" width="8.5" height="5.5" fill="#000"/>
<rect x="1255.80" y="1087.15" width="8.5" height="5.5" fill="#000"/>
<rect x="1255.80" y="1020.75" width="8.5" height="5.5" fill="#000"/>
<rect x="1255.80" y="954.35" width="8.5" height="5.5" fill="#000"/>
<rect x="1255.80" y="887.95" width="8.5" height="5.5" fill="#000"/>
<rect x="1255.80" y="821.55" width="8.5" height="5.5" fill="#000"/>
<rect x="1255.80" y="755.15" width="8.5" height="5.5" fill="#000"/>
<text transform="translate(1235.56,1397.89) scale(0.4950,0.4030)" font-size="100">0.5</text>
<text transform="translate(1432.71,1397.89) scale(0.4950,0.4030)" font-size="100">0.6</text>
<text transform="translate(1629.87,1397.89) scale(0.4950,0.4030)" font-size="100">0.7</text>
<text transform="translate(1827.52,1397.89) scale(0.4950,0.4030)" font-size="100">0.8</text>
<text transform="translate(2025.16,1397.89) scale(0.4950,0.4030)" font-size="100">0.9</text>
<text transform="translate(2221.57,1398.30) scale(0.4950,0.4030)" font-size="100">1.0</text>
<text transform="translate(1223.23,1366.89) scale(0.4950,0.4030)" font-size="100">0</text>
<text transform="translate(1223.72,1301.10) scale(0.4950,0.4030)" font-size="100">1</text>
<text transform="translate(1223.23,1234.30) scale(0.4950,0.4030)" font-size="100">2</text>
<text transform="translate(1222.73,1167.69) scale(0.4950,0.4030)" font-size="100">3</text>
<text transform="translate(1222.24,1101.70) scale(0.4950,0.4030)" font-size="100">4</text>
<text transform="translate(1223.23,1035.10) scale(0.4950,0.4030)" font-size="100">5</text>
<text transform="translate(1222.74,968.49) scale(0.4950,0.4030)" font-size="100">6</text>
<text transform="translate(1222.24,902.50) scale(0.4950,0.4030)" font-size="100">7</text>
<text transform="translate(1222.74,835.69) scale(0.4950,0.4030)" font-size="100">8</text>
<text transform="translate(1223.23,769.29) scale(0.4950,0.4030)" font-size="100">9</text>
<text transform="translate(1284.51,838.22) scale(1.0737,0.8322)" font-size="100">(d)</text>
<text transform="translate(1553.25,1468.31) scale(0.6742,0.5422)" font-size="100">Pore size (μm)</text>
<text transform="translate(1204.57,1129.41) rotate(-90) scale(0.5429,0.7318)" font-size="100">Count</text>
<rect x="1894.10" y="771.70" width="107.30" height="46.50" rx="4" fill="#006400"/>
<rect x="1901.10" y="778.20" width="93.30" height="33.50" fill="url(#hd)"/>
<text transform="translate(2006.20,807.23) scale(0.4408,0.3851)" font-size="100">GO + PVDF</text>
<g clip-path="url(#ce)">
<rect x="121.00" y="2013.25" width="165.00" height="71.55" fill="url(#he)" stroke="#ff0080" stroke-width="5.5"/>
<rect x="286.00" y="1747.05" width="165.00" height="337.75" fill="url(#he)" stroke="#ff0080" stroke-width="5.5"/>
<rect x="451.00" y="1880.15" width="165.00" height="204.65" fill="url(#he)" stroke="#ff0080" stroke-width="5.5"/>
<rect x="616.00" y="1547.40" width="165.00" height="537.40" fill="url(#he)" stroke="#ff0080" stroke-width="5.5"/>
<rect x="781.00" y="1880.15" width="165.00" height="204.65" fill="url(#he)" stroke="#ff0080" stroke-width="5.5"/>
<rect x="946.00" y="2013.25" width="165.00" height="71.55" fill="url(#he)" stroke="#ff0080" stroke-width="5.5"/>
<polyline points="119.00,2040.88 122.33,2039.59 125.66,2038.25 128.98,2037.05 132.31,2036.08 135.64,2035.03 138.97,2033.91 142.29,2032.72 145.62,2031.45 148.95,2030.11 152.28,2028.70 155.61,2027.21 158.93,2025.65 162.26,2024.01 165.59,2022.29 168.92,2020.51 172.24,2018.65 175.57,2016.71 178.90,2014.70 182.23,2012.61 185.56,2010.45 188.88,2008.22 192.21,2005.91 195.54,2003.53 198.87,2001.07 202.19,1998.54 205.52,1995.93 208.85,1993.26 212.18,1990.51 215.51,1987.68 218.83,1984.79 222.16,1981.82 225.49,1978.78 228.82,1975.67 232.14,1972.49 235.47,1969.24 238.80,1965.92 242.13,1962.53 245.45,1959.08 248.78,1955.55 252.11,1951.96 255.44,1948.31 258.77,1944.59 262.09,1940.81 265.42,1936.96 268.75,1933.05 272.08,1929.09 275.40,1925.06 278.73,1920.98 282.06,1916.84 285.39,1912.64 288.72,1908.40 292.04,1904.09 295.37,1899.74 298.70,1895.34 302.03,1890.88 305.35,1886.38 308.68,1881.83 312.01,1877.23 315.34,1872.59 318.67,1867.91 321.99,1863.18 325.32,1858.41 328.65,1853.61 331.98,1848.76 335.30,1843.88 338.63,1838.97 341.96,1834.02 345.29,1829.05 348.62,1824.05 351.94,1819.02 355.27,1813.97 358.60,1808.89 361.93,1803.80 365.25,1798.69 368.58,1793.57 371.91,1788.44 375.24,1783.30 378.57,1778.15 381.89,1773.00 385.22,1767.84 388.55,1762.69 391.88,1757.55 395.20,1752.41 398.53,1747.29 401.86,1742.18 405.19,1737.11 408.52,1732.07 411.84,1727.07 415.17,1722.07 418.50,1717.02 421.83,1711.88 425.15,1706.64 428.48,1701.32 431.81,1695.94 435.14,1690.52 438.46,1685.10 441.79,1679.68 445.12,1674.30 448.45,1668.98 451.78,1663.74 455.10,1658.58 458.43,1653.52 461.76,1648.55 465.09,1643.67 468.41,1638.89 471.74,1634.22 475.07,1629.64 478.40,1625.17 481.73,1620.81 485.05,1616.55 488.38,1612.41 491.71,1608.38 495.04,1604.47 498.36,1600.67 501.69,1596.99 505.02,1593.43 508.35,1590.00 511.68,1586.69 515.00,1583.50 518.33,1580.45 521.66,1577.52 524.99,1574.72 528.31,1572.06 531.64,1569.53 534.97,1567.13 538.30,1564.86 541.63,1562.74 544.95,1560.75 548.28,1558.90 551.61,1557.18 554.94,1555.61 558.26,1554.17 561.59,1552.88 564.92,1551.72 568.25,1550.71 571.58,1549.83 574.90,1549.10 578.23,1548.50 581.56,1548.05 584.89,1547.74 588.21,1547.57 591.54,1547.55 594.87,1547.66 598.20,1547.92 601.53,1548.32 604.85,1548.86 608.18,1549.53 611.51,1550.35 614.84,1551.31 618.16,1552.40 621.49,1553.63 624.82,1555.00 628.15,1556.49 631.47,1558.13 634.80,1559.89 638.13,1561.78 641.46,1563.79 644.79,1565.94 648.11,1568.20 651.44,1570.59 654.77,1573.10 658.10,1575.72 661.42,1578.46 664.75,1581.31 668.08,1584.27 671.41,1587.34 674.74,1590.51 678.06,1593.79 681.39,1597.16 684.72,1600.62 688.05,1604.18 691.37,1607.83 694.70,1611.57 698.03,1615.39 701.36,1619.29 704.69,1623.27 708.01,1627.32 711.34,1631.44 714.67,1635.62 718.00,1639.87 721.32,1644.18 724.65,1648.55 727.98,1652.96 731.31,1657.43 734.64,1661.94 737.96,1666.50 741.29,1671.11 744.62,1675.76 747.95,1680.48 751.27,1685.26 754.60,1690.10 757.93,1695.02 761.26,1700.02 764.59,1705.09 767.91,1710.26 771.24,1715.51 774.57,1720.86 777.90,1726.31 781.22,1731.87 784.55,1737.53 787.88,1743.31 791.21,1749.18 794.54,1755.12 797.86,1761.12 801.19,1767.16 804.52,1773.22 807.85,1779.29 811.17,1785.36 814.50,1791.39 817.83,1797.38 821.16,1803.32 824.48,1809.18 827.81,1814.94 831.14,1820.60 834.47,1826.13 837.80,1831.52 841.12,1836.75 844.45,1841.83 847.78,1846.74 851.11,1851.51 854.43,1856.14 857.76,1860.63 861.09,1865.00 864.42,1869.25 867.75,1873.40 871.07,1877.44 874.40,1881.38 877.73,1885.25 881.06,1889.03 884.38,1892.74 887.71,1896.40 891.04,1900.00 894.37,1903.55 897.70,1907.07 901.02,1910.57 904.35,1914.04 907.68,1917.50 911.01,1920.96 914.33,1924.43 917.66,1927.92 920.99,1931.43 924.32,1934.98 927.65,1938.57 930.97,1942.21 934.30,1945.91 937.63,1949.68 940.96,1953.54 944.28,1957.48 947.61,1961.52 950.94,1965.67 954.27,1969.90 957.60,1974.13 960.92,1978.30 964.25,1982.33 967.58,1986.17 970.91,1989.75 974.23,1993.05 977.56,1996.10 980.89,1998.93 984.22,2001.57 987.55,2004.04 990.87,2006.38 994.20,2008.61 997.53,2010.76 1000.86,2012.86 1004.18,2014.92 1007.51,2016.94 1010.84,2018.93 1014.17,2020.88 1017.49,2022.78 1020.82,2024.66 1024.15,2026.49 1027.48,2028.29 1030.81,2030.05 1034.13,2031.77 1037.46,2033.46 1040.79,2035.11 1044.12,2036.72 1047.44,2038.30 1050.77,2039.84 1054.10,2041.35 1057.43,2042.83 1060.76,2044.27 1064.08,2045.67 1067.41,2047.04 1070.74,2048.38 1074.07,2049.69 1077.39,2050.96 1080.72,2052.20 1084.05,2053.41 1087.38,2054.58 1090.71,2055.73 1094.03,2056.84 1097.36,2057.92 1100.69,2058.89 1104.02,2059.78 1107.34,2060.65 1110.67,2061.48 1114.00,2062.29" fill="none" stroke="#ff0080" stroke-width="5.5" stroke-linejoin="round"/>
</g>
<rect x="119.00" y="1477.60" width="995.20" height="6.60" fill="#000"/>
<rect x="119.00" y="2076.50" width="995.20" height="6.50" fill="#000"/>
<rect x="119.00" y="1477.60" width="6.50" height="605.40" fill="#000"/>
<rect x="1107.20" y="1477.60" width="7.00" height="605.40" fill="#000"/>
<rect x="117.50" y="2082.00" width="7" height="6.5" fill="#000"/>
<rect x="282.50" y="2082.00" width="7" height="6.5" fill="#000"/>
<rect x="447.50" y="2082.00" width="7" height="6.5" fill="#000"/>
<rect x="612.50" y="2082.00" width="7" height="6.5" fill="#000"/>
<rect x="777.50" y="2082.00" width="7" height="6.5" fill="#000"/>
<rect x="942.50" y="2082.00" width="7" height="6.5" fill="#000"/>
<rect x="1107.50" y="2082.00" width="7" height="6.5" fill="#000"/>
<rect x="111.50" y="2077.05" width="8.5" height="5.5" fill="#000"/>
<rect x="111.50" y="2010.50" width="8.5" height="5.5" fill="#000"/>
<rect x="111.50" y="1943.95" width="8.5" height="5.5" fill="#000"/>
<rect x="111.50" y="1877.40" width="8.5" height="5.5" fill="#000"/>
<rect x="111.50" y="1810.85" width="8.5" height="5.5" fill="#000"/>
<rect x="111.50" y="1744.30" width="8.5" height="5.5" fill="#000"/>
<rect x="111.50" y="1677.75" width="8.5" height="5.5" fill="#000"/>
<rect x="111.50" y="1611.20" width="8.5" height="5.5" fill="#000"/>
<rect x="111.50" y="1544.65" width="8.5" height="5.5" fill="#000"/>
<rect x="111.50" y="1478.10" width="8.5" height="5.5" fill="#000"/>
<text transform="translate(77.69,2122.60) scale(0.4950,0.4030)" font-size="100">0.20</text>
<text transform="translate(242.69,2122.60) scale(0.4950,0.4030)" font-size="100">0.25</text>
<text transform="translate(407.69,2122.60) scale(0.4950,0.4030)" font-size="100">0.30</text>
<text transform="translate(572.69,2122.60) scale(0.4950,0.4030)" font-size="100">0.35</text>
<text transform="translate(737.69,2122.60) scale(0.4950,0.4030)" font-size="100">0.40</text>
<text transform="translate(902.69,2122.60) scale(0.4950,0.4030)" font-size="100">0.45</text>
<text transform="translate(1067.69,2122.60) scale(0.4950,0.4030)" font-size="100">0.50</text>
<text transform="translate(80.63,2091.19) scale(0.4950,0.4030)" font-size="100">0</text>
<text transform="translate(81.13,2025.25) scale(0.4950,0.4030)" font-size="100">1</text>
<text transform="translate(80.63,1958.30) scale(0.4950,0.4030)" font-size="100">2</text>
<text transform="translate(80.14,1891.54) scale(0.4950,0.4030)" font-size="100">3</text>
<text transform="translate(79.64,1825.40) scale(0.4950,0.4030)" font-size="100">4</text>
<text transform="translate(80.63,1758.65) scale(0.4950,0.4030)" font-size="100">5</text>
<text transform="translate(80.14,1691.89) scale(0.4950,0.4030)" font-size="100">6</text>
<text transform="translate(79.64,1625.75) scale(0.4950,0.4030)" font-size="100">7</text>
<text transform="translate(80.14,1558.79) scale(0.4950,0.4030)" font-size="100">8</text>
<text transform="translate(80.63,1492.24) scale(0.4950,0.4030)" font-size="100">9</text>
<text transform="translate(144.69,1552.55) scale(1.0777,0.8500)" font-size="100">(e)</text>
<text transform="translate(410.35,2187.28) scale(0.6742,0.5344)" font-size="100">Pore size (μm)</text>
<text transform="translate(61.87,1853.03) rotate(-90) scale(0.5467,0.7318)" font-size="100">Count</text>
<rect x="784.00" y="1492.40" width="90.80" height="39.20" rx="4" fill="#ff0080"/>
<rect x="791.00" y="1498.90" width="76.80" height="26.20" fill="url(#he)"/>
<text transform="translate(880.01,1522.76) scale(0.3787,0.3224)" font-size="100">ZnO + PVDF</text>
<g clip-path="url(#cf)">
<rect x="1266.00" y="2025.60" width="197.30" height="59.40" fill="url(#hf)" stroke="#ff0000" stroke-width="5.5"/>
<rect x="1463.30" y="2025.60" width="197.30" height="59.40" fill="url(#hf)" stroke="#ff0000" stroke-width="5.5"/>
<rect x="1660.60" y="1753.60" width="197.30" height="331.40" fill="url(#hf)" stroke="#ff0000" stroke-width="5.5"/>
<rect x="1857.90" y="1536.00" width="197.30" height="549.00" fill="url(#hf)" stroke="#ff0000" stroke-width="5.5"/>
<rect x="2055.20" y="1916.80" width="197.30" height="168.20" fill="url(#hf)" stroke="#ff0000" stroke-width="5.5"/>
<polyline points="1262.00,2078.00 1265.33,2077.84 1268.66,2077.66 1271.98,2077.48 1275.31,2077.28 1278.64,2077.07 1281.97,2076.86 1285.29,2076.63 1288.62,2076.39 1291.95,2076.14 1295.28,2075.87 1298.61,2075.60 1301.93,2075.30 1305.26,2074.99 1308.59,2074.67 1311.92,2074.33 1315.24,2073.98 1318.57,2073.60 1321.90,2073.21 1325.23,2072.80 1328.56,2072.37 1331.88,2071.92 1335.21,2071.45 1338.54,2070.96 1341.87,2070.44 1345.19,2069.73 1348.52,2068.84 1351.85,2067.93 1355.18,2067.00 1358.51,2066.06 1361.83,2065.10 1365.16,2064.13 1368.49,2063.14 1371.82,2062.13 1375.14,2061.11 1378.47,2060.06 1381.80,2059.00 1385.13,2057.92 1388.45,2056.82 1391.78,2055.71 1395.11,2054.57 1398.44,2053.41 1401.77,2052.23 1405.09,2051.03 1408.42,2049.81 1411.75,2048.57 1415.08,2047.30 1418.40,2046.01 1421.73,2044.69 1425.06,2043.35 1428.39,2041.99 1431.72,2040.60 1435.04,2039.18 1438.37,2037.74 1441.70,2036.27 1445.03,2034.77 1448.35,2033.24 1451.68,2031.66 1455.01,2030.05 1458.34,2028.39 1461.67,2026.67 1464.99,2024.90 1468.32,2023.07 1471.65,2021.18 1474.98,2019.21 1478.30,2017.17 1481.63,2015.06 1484.96,2012.86 1488.29,2010.57 1491.62,2008.19 1494.94,2005.72 1498.27,2003.15 1501.60,2000.47 1504.93,1997.69 1508.25,1994.81 1511.58,1991.83 1514.91,1988.74 1518.24,1985.55 1521.57,1982.26 1524.89,1978.86 1528.22,1975.37 1531.55,1971.78 1534.88,1968.08 1538.20,1964.29 1541.53,1960.40 1544.86,1956.42 1548.19,1952.34 1551.52,1948.16 1554.84,1943.90 1558.17,1939.54 1561.50,1935.09 1564.83,1930.55 1568.15,1925.93 1571.48,1921.22 1574.81,1916.42 1578.14,1911.55 1581.46,1906.59 1584.79,1901.56 1588.12,1896.45 1591.45,1891.27 1594.78,1886.02 1598.10,1880.69 1601.43,1875.31 1604.76,1869.86 1608.09,1864.35 1611.41,1858.79 1614.74,1853.17 1618.07,1847.50 1621.40,1841.78 1624.73,1836.01 1628.05,1830.20 1631.38,1824.36 1634.71,1818.47 1638.04,1812.55 1641.36,1806.60 1644.69,1800.63 1648.02,1794.63 1651.35,1788.61 1654.68,1782.57 1658.00,1776.52 1661.33,1770.46 1664.66,1764.40 1667.99,1758.34 1671.31,1752.28 1674.64,1746.23 1677.97,1740.19 1681.30,1734.16 1684.63,1728.16 1687.95,1722.19 1691.28,1716.24 1694.61,1710.33 1697.94,1704.46 1701.26,1698.63 1704.59,1692.85 1707.92,1687.12 1711.25,1681.45 1714.58,1675.83 1717.90,1670.28 1721.23,1664.79 1724.56,1659.38 1727.89,1654.04 1731.21,1648.77 1734.54,1643.59 1737.87,1638.49 1741.20,1633.48 1744.53,1628.57 1747.85,1623.74 1751.18,1619.02 1754.51,1614.40 1757.84,1609.89 1761.16,1605.49 1764.49,1601.20 1767.82,1597.02 1771.15,1592.97 1774.47,1589.03 1777.80,1585.23 1781.13,1581.55 1784.46,1578.00 1787.79,1574.59 1791.11,1571.31 1794.44,1568.17 1797.77,1565.17 1801.10,1562.31 1804.42,1559.60 1807.75,1557.03 1811.08,1554.62 1814.41,1552.36 1817.74,1550.25 1821.06,1548.30 1824.39,1546.51 1827.72,1544.89 1831.05,1543.44 1834.37,1542.16 1837.70,1541.05 1841.03,1540.12 1844.36,1539.37 1847.69,1538.79 1851.01,1538.40 1854.34,1538.19 1857.67,1538.17 1861.00,1538.32 1864.32,1538.67 1867.65,1539.19 1870.98,1539.90 1874.31,1540.78 1877.64,1541.85 1880.96,1543.10 1884.29,1544.52 1887.62,1546.12 1890.95,1547.89 1894.27,1549.83 1897.60,1551.94 1900.93,1554.22 1904.26,1556.67 1907.59,1559.27 1910.91,1562.03 1914.24,1564.95 1917.57,1568.03 1920.90,1571.25 1924.22,1574.62 1927.55,1578.13 1930.88,1581.79 1934.21,1585.57 1937.54,1589.49 1940.86,1593.54 1944.19,1597.71 1947.52,1602.00 1950.85,1606.41 1954.17,1610.93 1957.50,1615.56 1960.83,1620.28 1964.16,1625.11 1967.48,1630.03 1970.81,1635.04 1974.14,1640.14 1977.47,1645.31 1980.80,1650.57 1984.12,1655.90 1987.45,1661.30 1990.78,1666.76 1994.11,1672.28 1997.43,1677.87 2000.76,1683.50 2004.09,1689.18 2007.42,1694.90 2010.75,1700.67 2014.07,1706.47 2017.40,1712.30 2020.73,1718.16 2024.06,1724.04 2027.38,1729.94 2030.71,1735.85 2034.04,1741.78 2037.37,1747.72 2040.70,1753.65 2044.02,1759.59 2047.35,1765.53 2050.68,1771.46 2054.01,1777.37 2057.33,1783.28 2060.66,1789.16 2063.99,1795.03 2067.32,1800.87 2070.65,1806.69 2073.97,1812.47 2077.30,1818.23 2080.63,1823.94 2083.96,1829.63 2087.28,1835.27 2090.61,1840.87 2093.94,1846.42 2097.27,1851.93 2100.60,1857.38 2103.92,1862.79 2107.25,1868.14 2110.58,1873.42 2113.91,1878.65 2117.23,1883.81 2120.56,1888.91 2123.89,1893.93 2127.22,1898.88 2130.55,1903.76 2133.87,1908.56 2137.20,1913.29 2140.53,1917.93 2143.86,1922.49 2147.18,1926.97 2150.51,1931.36 2153.84,1935.67 2157.17,1939.88 2160.49,1944.01 2163.82,1948.05 2167.15,1951.99 2170.48,1955.84 2173.81,1959.60 2177.13,1963.26 2180.46,1966.83 2183.79,1970.30 2187.12,1973.67 2190.44,1976.94 2193.77,1980.12 2197.10,1983.20 2200.43,1986.18 2203.76,1989.05 2207.08,1991.83 2210.41,1994.51 2213.74,1997.09 2217.07,1999.57 2220.39,2001.95 2223.72,2004.22 2227.05,2006.40 2230.38,2008.48 2233.71,2010.45 2237.03,2012.33 2240.36,2014.10 2243.69,2015.85 2247.02,2018.02 2250.34,2020.14 2253.67,2022.18 2257.00,2024.17" fill="none" stroke="#ff0000" stroke-width="5.5" stroke-linejoin="round"/>
</g>
<rect x="1262.70" y="1478.20" width="993.80" height="6.70" fill="#000"/>
<rect x="1262.70" y="2077.00" width="993.80" height="6.00" fill="#000"/>
<rect x="1262.70" y="1478.20" width="6.30" height="604.80" fill="#000"/>
<rect x="2249.00" y="1478.20" width="7.50" height="604.80" fill="#000"/>
<rect x="1262.50" y="2082.00" width="7" height="6.5" fill="#000"/>
<rect x="1459.80" y="2082.00" width="7" height="6.5" fill="#000"/>
<rect x="1657.10" y="2082.00" width="7" height="6.5" fill="#000"/>
<rect x="1854.40" y="2082.00" width="7" height="6.5" fill="#000"/>
<rect x="2051.70" y="2082.00" width="7" height="6.5" fill="#000"/>
<rect x="2249.00" y="2082.00" width="7" height="6.5" fill="#000"/>
<rect x="1255.20" y="2077.25" width="8.5" height="5.5" fill="#000"/>
<rect x="1255.20" y="1968.45" width="8.5" height="5.5" fill="#000"/>
<rect x="1255.20" y="1859.65" width="8.5" height="5.5" fill="#000"/>
<rect x="1255.20" y="1750.85" width="8.5" height="5.5" fill="#000"/>
<rect x="1255.20" y="1642.05" width="8.5" height="5.5" fill="#000"/>
<rect x="1255.20" y="1533.25" width="8.5" height="5.5" fill="#000"/>
<text transform="translate(1222.69,2122.60) scale(0.4950,0.4030)" font-size="100">0.20</text>
<text transform="translate(1419.99,2122.60) scale(0.4950,0.4030)" font-size="100">0.25</text>
<text transform="translate(1617.29,2122.60) scale(0.4950,0.4030)" font-size="100">0.30</text>
<text transform="translate(1814.59,2122.60) scale(0.4950,0.4030)" font-size="100">0.35</text>
<text transform="translate(2011.89,2122.60) scale(0.4950,0.4030)" font-size="100">0.40</text>
<text transform="translate(2209.19,2122.60) scale(0.4950,0.4030)" font-size="100">0.45</text>
<text transform="translate(1224.23,2091.39) scale(0.4950,0.4030)" font-size="100">0</text>
<text transform="translate(1224.23,1982.80) scale(0.4950,0.4030)" font-size="100">2</text>
<text transform="translate(1223.24,1874.20) scale(0.4950,0.4030)" font-size="100">4</text>
<text transform="translate(1223.74,1764.99) scale(0.4950,0.4030)" font-size="100">6</text>
<text transform="translate(1223.74,1656.19) scale(0.4950,0.4030)" font-size="100">8</text>
<text transform="translate(1199.48,1547.60) scale(0.4950,0.4030)" font-size="100">10</text>
<text transform="translate(1284.50,1553.12) scale(1.0758,0.8516)" font-size="100">(f)</text>
<text transform="translate(1553.25,2187.22) scale(0.6742,0.5611)" font-size="100">Pore size (μm)</text>
<text transform="translate(1207.66,1855.15) rotate(-90) scale(0.5510,0.7394)" font-size="100">Count</text>
<rect x="1911.50" y="1489.30" width="89.90" height="38.70" rx="4" fill="#ff0000"/>
<rect x="1918.50" y="1495.80" width="75.90" height="25.70" fill="url(#hf)"/>
<text transform="translate(2007.64,1519.10) scale(0.3819,0.3493)" font-size="100">MOF + PVDF</text></g></svg>
</body></html>
